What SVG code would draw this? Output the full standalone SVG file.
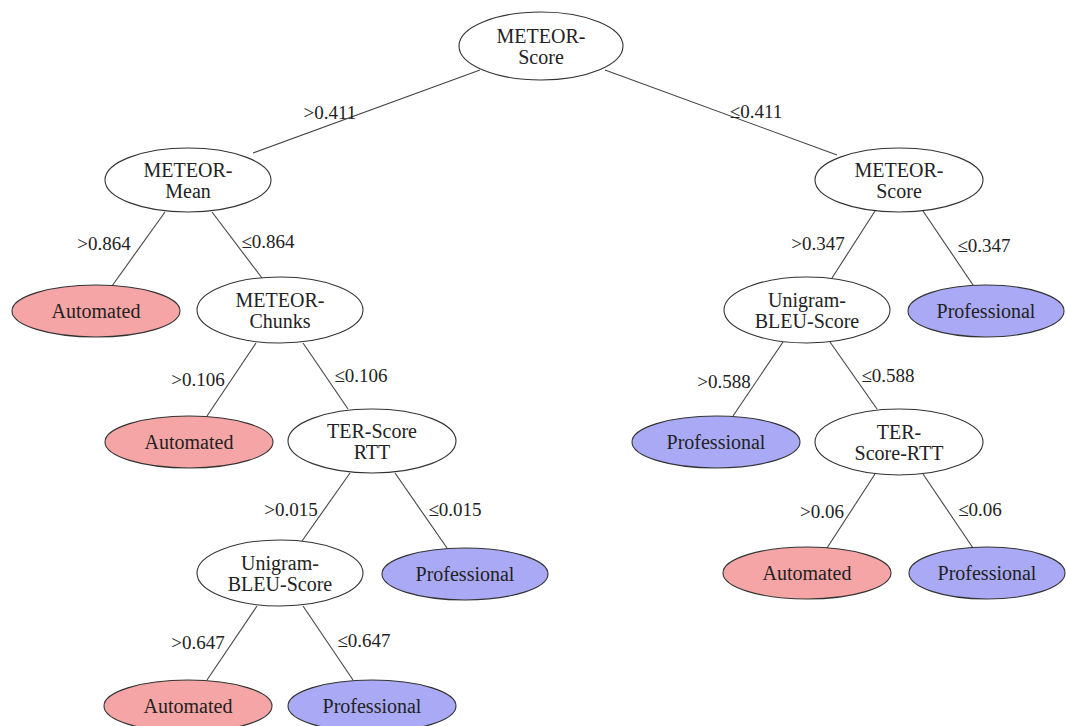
<svg xmlns="http://www.w3.org/2000/svg" width="1066" height="726" viewBox="0 0 1066 726">
<style>
.n{fill:#ffffff;stroke:#333333;stroke-width:1.1}
.a{fill:#f5a5a5;stroke:#333333;stroke-width:1.1}
.p{fill:#a9a9f5;stroke:#333333;stroke-width:1.1}
text{font-family:"Liberation Serif","DejaVu Serif",serif;font-size:20px;fill:#222222;text-anchor:middle}
.lbl{font-size:19px}
#edges line{stroke:#444444;stroke-width:1.1}
</style>
<rect width="1066" height="726" fill="#ffffff"/>
<g id="edges">
<line x1="253" y1="153" x2="480" y2="70"/>
<line x1="605" y1="70" x2="837" y2="155"/>
<line x1="165" y1="212" x2="112" y2="286"/>
<line x1="212" y1="212" x2="262" y2="278"/>
<line x1="256" y1="343" x2="207" y2="416"/>
<line x1="303" y1="343" x2="348" y2="409"/>
<line x1="350" y1="473" x2="302" y2="541"/>
<line x1="395" y1="473" x2="447" y2="548"/>
<line x1="257" y1="606" x2="207" y2="680"/>
<line x1="303" y1="606" x2="353" y2="680"/>
<line x1="875" y1="211" x2="832" y2="278"/>
<line x1="923" y1="211" x2="973" y2="285"/>
<line x1="783" y1="342" x2="733" y2="416"/>
<line x1="830" y1="342" x2="877" y2="409"/>
<line x1="875" y1="474" x2="827" y2="548"/>
<line x1="923" y1="474" x2="973" y2="548"/>
<text class="lbl" x="330" y="119">&gt;0.411</text>
<text class="lbl" x="756" y="118">≤0.411</text>
<text class="lbl" x="104" y="250">&gt;0.864</text>
<text class="lbl" x="268" y="248">≤0.864</text>
<text class="lbl" x="198" y="386">&gt;0.106</text>
<text class="lbl" x="361" y="382">≤0.106</text>
<text class="lbl" x="291" y="516">&gt;0.015</text>
<text class="lbl" x="455" y="516">≤0.015</text>
<text class="lbl" x="198" y="649">&gt;0.647</text>
<text class="lbl" x="364" y="647">≤0.647</text>
<text class="lbl" x="818" y="250">&gt;0.347</text>
<text class="lbl" x="984" y="252">≤0.347</text>
<text class="lbl" x="724" y="388">&gt;0.588</text>
<text class="lbl" x="888" y="382">≤0.588</text>
<text class="lbl" x="822" y="518">&gt;0.06</text>
<text class="lbl" x="980" y="516">≤0.06</text>
</g>
<g id="root"><ellipse class="n" cx="541" cy="46" rx="82" ry="34"/><text x="541" y="43">METEOR-</text><text x="541" y="64">Score</text></g>
<g id="meteor-mean"><ellipse class="n" cx="188" cy="180" rx="83" ry="32"/><text x="188" y="177">METEOR-</text><text x="188" y="198">Mean</text></g>
<g id="auto1"><ellipse class="a" cx="96" cy="311" rx="84" ry="26"/><text x="96" y="318">Automated</text></g>
<g id="meteor-chunks"><ellipse class="n" cx="280" cy="310" rx="83" ry="33"/><text x="280" y="307">METEOR-</text><text x="280" y="328">Chunks</text></g>
<g id="auto2"><ellipse class="a" cx="189" cy="442" rx="84" ry="26"/><text x="189" y="449">Automated</text></g>
<g id="ter-left"><ellipse class="n" cx="372" cy="441" rx="84" ry="32"/><text x="372" y="438">TER-Score</text><text x="372" y="459">RTT</text></g>
<g id="unigram-left"><ellipse class="n" cx="280" cy="573" rx="83" ry="33"/><text x="280" y="570">Unigram-</text><text x="280" y="591">BLEU-Score</text></g>
<g id="prof1"><ellipse class="p" cx="465" cy="574" rx="83" ry="26"/><text x="465" y="581">Professional</text></g>
<g id="auto3"><ellipse class="a" cx="188" cy="706" rx="84" ry="26"/><text x="188" y="713">Automated</text></g>
<g id="prof2"><ellipse class="p" cx="372" cy="706" rx="84" ry="26"/><text x="372" y="713">Professional</text></g>
<g id="meteor-score-right"><ellipse class="n" cx="899" cy="180" rx="84" ry="32"/><text x="899" y="177">METEOR-</text><text x="899" y="198">Score</text></g>
<g id="unigram-right"><ellipse class="n" cx="807" cy="310" rx="83" ry="33"/><text x="807" y="307">Unigram-</text><text x="807" y="328">BLEU-Score</text></g>
<g id="prof3"><ellipse class="p" cx="986" cy="311" rx="78" ry="26"/><text x="986" y="318">Professional</text></g>
<g id="prof4"><ellipse class="p" cx="716" cy="442" rx="84" ry="26"/><text x="716" y="449">Professional</text></g>
<g id="ter-right"><ellipse class="n" cx="899" cy="442" rx="84" ry="33"/><text x="899" y="439">TER-</text><text x="899" y="460">Score-RTT</text></g>
<g id="auto4"><ellipse class="a" cx="807" cy="573" rx="84" ry="26"/><text x="807" y="580">Automated</text></g>
<g id="prof5"><ellipse class="p" cx="987" cy="573" rx="78" ry="26"/><text x="987" y="580">Professional</text></g>
</svg>
